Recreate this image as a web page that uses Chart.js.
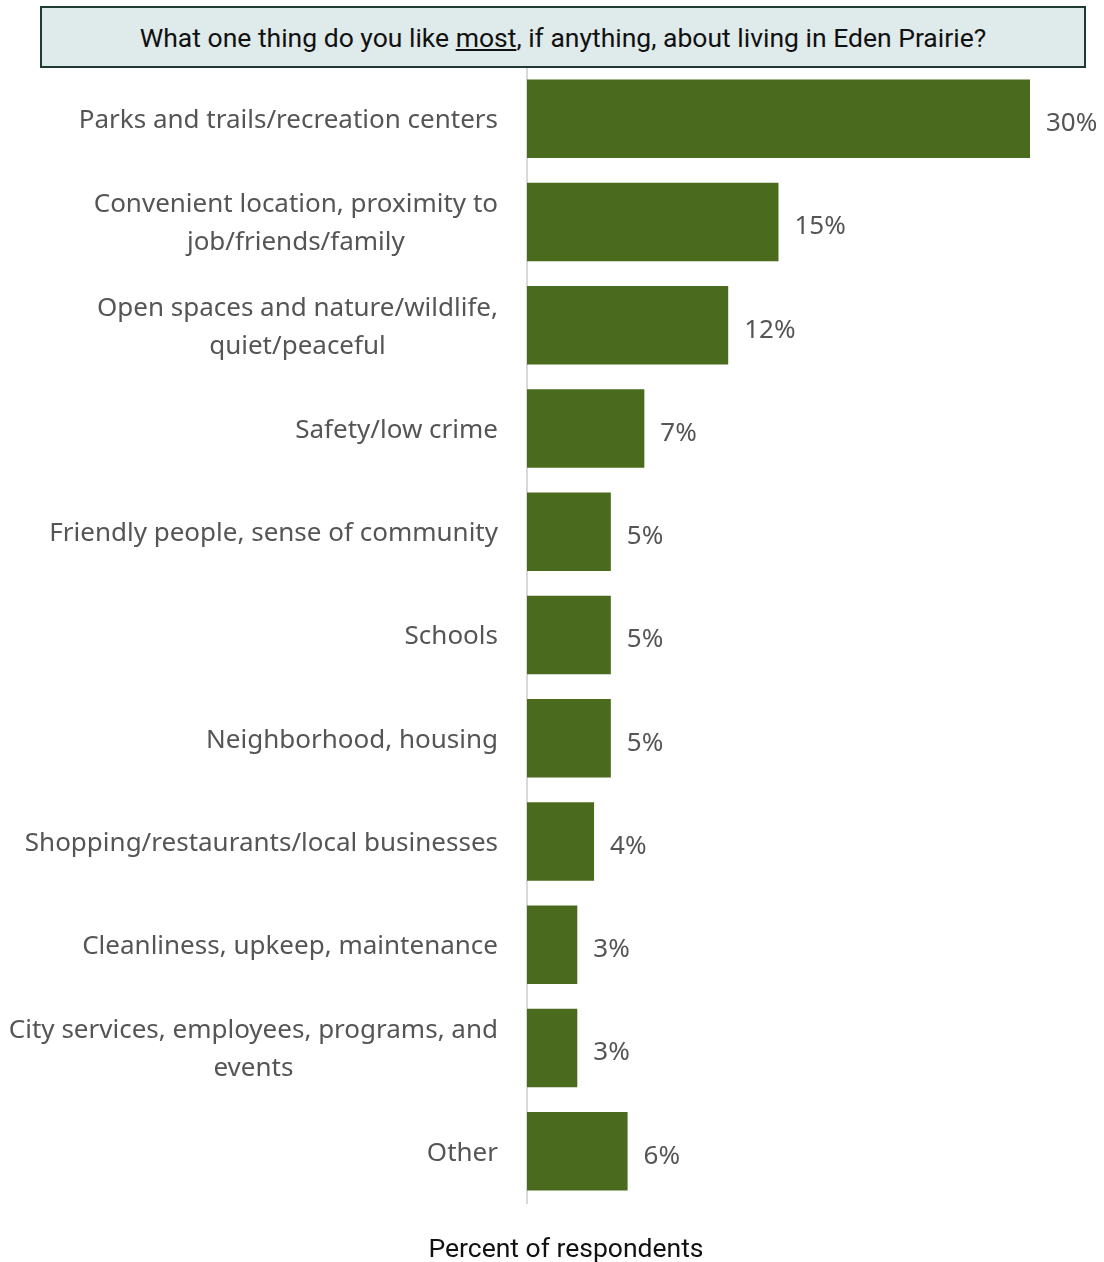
<!DOCTYPE html>
<html>
<head>
<meta charset="utf-8">
<script src="https://cdn.jsdelivr.net/npm/chart.js@4"></script>
<style>
    html, body { margin: 0; padding: 0; background: #fff; }
    #wrap { position: relative; width: 1104px; height: 1262px; }
    #question {
        position: absolute; left: 40px; top: 6px; width: 1042px; height: 58px;
        background: #dfeaea; border: 2.5px solid #1f3a33;
        font-family: Roboto, sans-serif; font-size: 26.5px; color: #111;
        display: flex; align-items: center; justify-content: center;
    }
    #xlabel {
        position: absolute; left: 0; top: 1232px; width: 1132px; text-align: center;
        font-family: Roboto, sans-serif; font-size: 26.5px; color: #111;
    }
</style>
</head>
<body>
<div id="wrap">
    <canvas id="myChart" width="1104" height="1262"></canvas>
    <div id="question">What one thing do you like&nbsp;<u>most</u>, if anything, about living in Eden Prairie?</div>
    <div id="xlabel">Percent of respondents</div>
</div>
<script>
const labels = [
    'Parks and trails/recreation centers',
    ['Convenient location, proximity to', 'job/friends/family'],
    ['Open spaces and nature/wildlife,', 'quiet/peaceful'],
    'Safety/low crime',
    'Friendly people, sense of community',
    'Schools',
    'Neighborhood, housing',
    'Shopping/restaurants/local businesses',
    'Cleanliness, upkeep, maintenance',
    ['City services, employees, programs, and', 'events'],
    'Other'
];
const percents = [30, 15, 12, 7, 5, 5, 5, 4, 3, 3, 6];

const labelFont = "'Noto Sans', sans-serif";

// value labels to the right of each bar
const valueLabels = {
    id: 'valueLabels',
    afterDatasetsDraw(chart) {
        const ctx = chart.ctx;
        const meta = chart.getDatasetMeta(0);
        ctx.save();
        ctx.font = '26px ' + labelFont;
        ctx.fillStyle = '#555';
        ctx.textAlign = 'left';
        ctx.textBaseline = 'middle';
        meta.data.forEach(function (bar, i) {
            ctx.fillText(percents[i] + '%', bar.x + 16, bar.y + 5);
        });
        ctx.restore();
    }
};

// category labels: block right-aligned to the axis, lines centred inside the block
const categoryLabels = {
    id: 'categoryLabels',
    afterDraw(chart) {
        const ctx = chart.ctx;
        const y = chart.scales.y;
        const right = y.right - 29;
        const lh = 38;
        ctx.save();
        ctx.font = '26px ' + labelFont;
        ctx.fillStyle = '#555';
        ctx.textAlign = 'center';
        ctx.textBaseline = 'middle';
        labels.forEach(function (lab, i) {
            const lines = Array.isArray(lab) ? lab : [lab];
            const w = Math.max.apply(null, lines.map(function (s) { return ctx.measureText(s).width; }));
            const cx = right - w / 2;
            const cy = y.getPixelForTick(i) + 2;
            lines.forEach(function (s, j) {
                ctx.fillText(s, cx, cy + (j - (lines.length - 1) / 2) * lh);
            });
        });
        ctx.restore();
    }
};

new Chart(document.getElementById('myChart'), {
    type: 'bar',
    data: {
        labels: labels,
        datasets: [{
            data: percents,
            backgroundColor: '#4a6b1d',
            categoryPercentage: 1,
            barPercentage: 0.76
        }]
    },
    options: {
        indexAxis: 'y',
        responsive: false,
        animation: false,
        layout: { padding: { top: 67, right: 74, bottom: 59, left: 0 } },
        plugins: { legend: { display: false }, tooltip: { enabled: false } },
        scales: {
            x: { display: false, min: 0, max: 30 },
            y: {
                afterFit: function (scale) { scale.width = 527; },
                grid: { display: false },
                border: { display: true, color: '#d9d9d9', width: 2 },
                ticks: { display: false }
            }
        }
    },
    plugins: [valueLabels, categoryLabels]
});
</script>
</body>
</html>
